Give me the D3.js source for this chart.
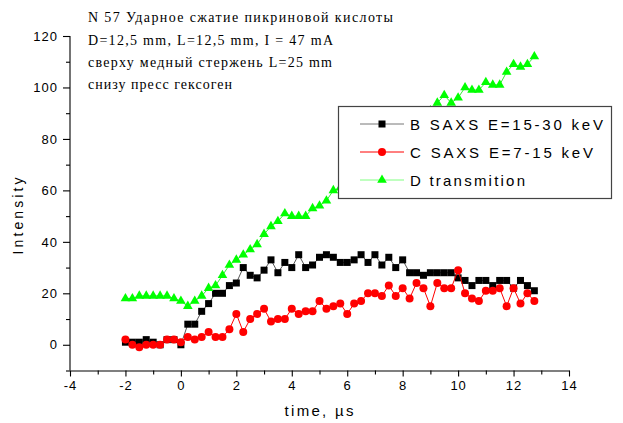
<!DOCTYPE html>
<html>
<head>
<meta charset="utf-8">
<script src="https://cdn.jsdelivr.net/npm/d3@7/dist/d3.min.js"></script>
<style>
  html, body { margin: 0; padding: 0; background: #fff; }
  svg { display: block; }
  .tick text { font-family: "Liberation Sans", Arial, sans-serif; font-size: 13px; fill: #000; }
</style>
</head>
<body>
<svg id="chart" width="623" height="423"></svg>
<script>
// Time of each sample, µs
const time = [
  -2, -1.75, -1.5, -1.25, -1, -0.75, -0.5, -0.25, 0, 0.25, 0.5, 0.75,
  1, 1.25, 1.5, 1.75, 2, 2.25, 2.5, 2.75, 3, 3.25, 3.5, 3.75,
  4, 4.25, 4.5, 4.75, 5, 5.25, 5.5, 5.75, 6, 6.25, 6.5, 6.75,
  7, 7.25, 7.5, 7.75, 8, 8.25, 8.5, 8.75, 9, 9.25, 9.5, 9.75,
  10, 10.25, 10.5, 10.75, 11, 11.25, 11.5, 11.75, 12, 12.25, 12.5, 12.75
];

// B: SAXS, E = 15-30 keV
const saxsHigh = [
  1, 1, 1, 2, 1, 0, 2, 2, 0, 8, 8, 13, 16, 20, 20, 23, 24, 30, 27, 26,
  29, 33, 28, 32, 30, 35, 30, 31, 34, 35, 34, 32, 32, 33, 35, 32, 35, 31, 34, 30, 33, 28, 28,
  27, 28, 28, 28, 28, 26, 25, 23, 25, 25, 23, 25, 25, 22, 25, 23, 21
];

// C: SAXS, E = 7-15 keV
const saxsLow = [
  2, 0, -1, 0, 0, 0, 2, 2, 1, 3, 2, 3, 5, 3, 3, 6, 12, 5, 10, 12,
  14, 9, 10, 10, 14, 12, 13, 13, 17, 14, 15, 16, 12, 16, 17, 20, 20, 19, 23, 19, 22, 18, 24,
  22, 15, 24, 22, 22, 29, 20, 18, 17, 21, 21, 22, 15, 22, 16, 20, 17
];

// D: transmission
const transmission = [
  18, 18, 19, 19, 19, 19, 19, 18, 17, 15, 17, 19, 22, 23, 27, 31, 33, 35, 37, 39,
  43, 46, 48, 51, 50, 50, 50, 53, 54, 56, 60, 61, 63, 64, 66, 69, 71, 72, 75, 77, 79, 82, 84,
  88, 91, 94, 97, 94, 96, 100, 99, 99, 102, 101, 101, 106, 109, 108, 109, 112
];

const xMajor = [-4, -2, 0, 2, 4, 6, 8, 10, 12, 14];
const xMinor = [-3, -1, 1, 3, 5, 7, 9, 11, 13];
const yMajor = [0, 20, 40, 60, 80, 100, 120];
const yMinor = [-10, 10, 30, 50, 70, 90, 110];

const titleLines = [
  "N 57 Ударное сжатие пикриновой кислоты",
  "D=12,5 mm, L=12,5 mm, I = 47 mA",
  "сверху медный стержень L=25 mm",
  "снизу пресс гексоген"
];

const seriesInfo = [
  { label: "B SAXS E=15-30 keV", values: saxsHigh, line: "#555", legendLine: "#777", fill: "#000", shape: "square" },
  { label: "C SAXS E=7-15 keV", values: saxsLow, line: "#ff0000", legendLine: "#ff0000", fill: "#ff0000", shape: "circle" },
  { label: "D transmition", values: transmission, line: "#33ee33", legendLine: "#80ff80", fill: "#00ff00", shape: "triangle" }
];

const svg = d3.select("#chart");
const x = d3.scaleLinear().domain([-4, 14]).range([70, 569]);
const y = d3.scaleLinear().domain([-10, 120]).range([370.5, 36]);

// Tick labels use a plain hyphen for negatives
const fmt = d => String(d);
const axisFont = "'Liberation Sans', Arial, sans-serif";

const gx = svg.append("g").attr("transform", `translate(0,${y(-10)})`);
gx.call(d3.axisBottom(x).tickValues(xMajor).tickSize(6).tickSizeOuter(0).tickPadding(4).tickFormat(fmt));
gx.append("g").call(d3.axisBottom(x).tickValues(xMinor).tickSize(4).tickFormat(""))
  .select(".domain").remove();

const gy = svg.append("g").attr("transform", `translate(${x(-4)},0)`);
gy.call(d3.axisLeft(y).tickValues(yMajor).tickSize(7).tickSizeOuter(0).tickPadding(5).tickFormat(fmt));
gy.append("g").call(d3.axisLeft(y).tickValues(yMinor).tickSize(4).tickFormat(""))
  .select(".domain").remove();
gy.select(".domain").attr("d", `M0,${y(-10)}V${y(120)}`);

svg.selectAll(".domain, .tick line").attr("stroke", "#000").attr("stroke-width", 1.1);
svg.selectAll(".tick text").style("letter-spacing", "1px");

// Axis titles
svg.append("text")
  .attr("x", 319).attr("y", 416)
  .attr("text-anchor", "middle")
  .attr("font-family", axisFont).attr("font-size", 15)
  .attr("textLength", 69).attr("lengthAdjust", "spacing")
  .text("time, µs");

svg.append("text")
  .attr("transform", "translate(23,216) rotate(-90)")
  .attr("text-anchor", "middle")
  .attr("font-family", axisFont).attr("font-size", 14)
  .attr("textLength", 77).attr("lengthAdjust", "spacing")
  .text("Intensity");

// Series: connecting line then markers
const line = d3.line().x((d, i) => x(time[i])).y(d => y(d));
const tri = d3.symbol().type(d3.symbolTriangle).size(40);

seriesInfo.forEach(s => {
  const g = svg.append("g");
  g.append("path").datum(s.values)
    .attr("d", line).attr("fill", "none")
    .attr("stroke", s.line).attr("stroke-width", 1);
  const pts = g.selectAll(".pt").data(s.values).enter();
  if (s.shape === "square") {
    pts.append("rect")
      .attr("x", (d, i) => x(time[i]) - 3.5).attr("y", d => y(d) - 3.5)
      .attr("width", 7).attr("height", 7).attr("fill", s.fill);
  } else if (s.shape === "circle") {
    pts.append("circle")
      .attr("cx", (d, i) => x(time[i])).attr("cy", d => y(d))
      .attr("r", 4).attr("fill", s.fill);
  } else {
    pts.append("path")
      .attr("d", tri)
      .attr("transform", (d, i) => `translate(${x(time[i])},${y(d)})`)
      .attr("fill", s.fill);
  }
});

// Legend
const leg = svg.append("g");
leg.append("rect")
  .attr("x", 338.5).attr("y", 106.5).attr("width", 273).attr("height", 92)
  .attr("fill", "#fff").attr("stroke", "#444").attr("stroke-width", 1.2);

const legendRows = [124, 152, 180];
const legendLengths = [193, 183, 115];
seriesInfo.forEach((s, i) => {
  const cy = legendRows[i];
  leg.append("line").attr("x1", 360).attr("x2", 404).attr("y1", cy).attr("y2", cy)
    .attr("stroke", s.legendLine).attr("stroke-width", 1);
  if (s.shape === "square") {
    leg.append("rect").attr("x", 378.5).attr("y", cy - 3.5).attr("width", 7).attr("height", 7).attr("fill", s.fill);
  } else if (s.shape === "circle") {
    leg.append("circle").attr("cx", 382).attr("cy", cy).attr("r", 4).attr("fill", s.fill);
  } else {
    leg.append("path").attr("d", tri).attr("transform", `translate(382,${cy})`).attr("fill", s.fill);
  }
  leg.append("text")
    .attr("x", 410).attr("y", cy + 5.5)
    .attr("font-family", axisFont).attr("font-size", 15)
    .attr("textLength", legendLengths[i]).attr("lengthAdjust", "spacing")
    .text(s.label);
});

// Title block
const titleLengths = [305, 245, 244, 144];
const titleBase = [22, 45, 67, 89];
titleLines.forEach((t, i) => {
  svg.append("text")
    .attr("x", 88).attr("y", titleBase[i])
    .attr("font-family", "'Liberation Serif', 'Times New Roman', serif")
    .attr("font-size", 14)
    .attr("textLength", titleLengths[i]).attr("lengthAdjust", "spacing")
    .text(t);
});
</script>
</body>
</html>
